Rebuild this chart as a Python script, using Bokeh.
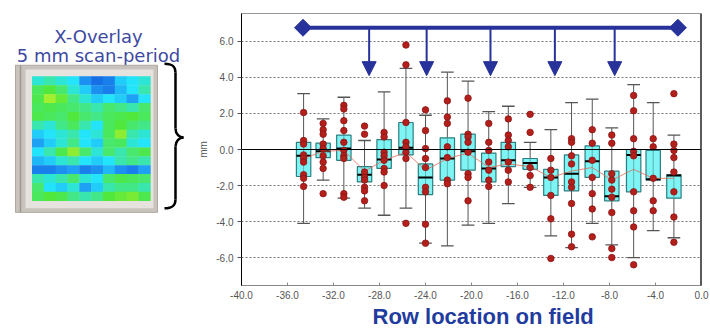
import numpy as np
from bokeh.plotting import figure
from bokeh.layouts import row
from bokeh.models import (Range1d, FixedTicker, PrintfTickFormatter, Span, Title,
                          Arrow, NormalHead, ColumnDataSource)
from bokeh.embed import file_html
from bokeh.resources import INLINE
from bokeh.core.properties import value

# ---------------- data ----------------
row_x = [-34.6, -32.9, -31.1, -29.3, -27.6, -25.7, -24.0, -22.1, -20.3, -18.5,
         -16.8, -14.9, -13.1, -11.3, -9.5, -7.8, -5.9, -4.2, -2.4]
whisker_hi = [3.1, 1.7, 2.9, 0.5, 3.2, 4.5, 1.9, 4.3, 3.8, 2.1, 2.4, 0.4, 1.1, 2.6, 2.8, 1.2, 3.6, 2.6, 0.8]
q3 = [0.4, 0.35, 0.8, -0.95, 0.55, 1.5, -0.8, 0.65, 0.85, -0.2, 0.4, -0.5, -1.1, -0.3, 0.2, -1.2, 0.0, -0.05, -1.4]
median = [-0.35, -0.1, 0.05, -1.4, -0.55, 0.1, -1.55, -0.5, -0.1, -1.05, -0.6, -0.75, -1.55, -1.35, -0.65, -2.6, -0.3, -1.65, -1.45]
q1 = [-1.5, -0.45, -0.6, -1.8, -1.05, -0.3, -2.5, -1.7, -1.15, -1.8, -0.95, -1.1, -2.55, -2.3, -1.55, -2.85, -2.35, -1.7, -2.7]
whisker_lo = [-4.1, -1.7, -2.7, -3.25, -3.65, -3.25, -5.2, -5.35, -4.2, -4.1, -3.0, -2.1, -4.8, -5.45, -4.1, -5.3, -6.0, -4.5, -4.9]
means = [-0.5, -0.1, -0.05, -1.2, -0.6, -0.15, -1.15, -0.5, -0.2, -1.0, -0.8, -0.95, -1.55, -1.2, -1.0, -1.7, -1.1, -1.6, -1.6]
points = [
    [2.05, 0.5, 0.3, -0.3, -0.5, -0.7, -1.4, -1.6, -2.05],
    [1.45, 1.1, 0.85, 0.3, 0.05, -0.35, -0.7, -1.05, -2.45],
    [2.45, 2.25, 1.6, 1.05, 0.4, -0.05, -0.35, -0.5, -2.45, -2.65],
    [1.3, 0.85, -1.25, -1.55, -1.7, -2.1, -2.3, -2.85],
    [0.95, 0.7, -0.15, -0.35, -0.6, -1.05, -1.25, -2.0],
    [5.8, 4.7, 1.5, 0.4, 0.15, -0.15, -0.5, -4.1],
    [2.2, 1.05, 0.05, -0.5, -1.0, -2.1, -2.35, -4.15, -5.2],
    [2.7, 1.8, 1.45, 0.15, -0.45, -1.7, -1.9],
    [2.85, 0.85, 0.7, 0.4, -0.15, -1.35, -1.55, -2.85],
    [1.45, 0.4, -0.05, -0.7, -1.15, -1.7, -2.05],
    [1.7, 0.8, 0.5, 0.15, -0.7, -1.15, -1.8],
    [1.95, 0.95, -1.0, -1.45, -2.1],
    [-0.5, -1.15, -1.55, -2.55, -3.85, -6.05],
    [0.6, 0.4, -0.35, -0.8, -1.8, -2.1, -3.0, -4.7, -5.4],
    [1.1, 0.35, -0.6, -1.55, -2.45, -3.3, -4.85],
    [0.8, 0.35, -1.35, -1.7, -2.2, -2.65, -3.5, -5.5, -6.0],
    [3.0, 2.15, 0.6, -0.1, -0.35, -2.35, -3.4, -4.3, -6.4],
    [0.6, 0.15, -1.6, -2.85, -3.4],
    [3.1, 0.3, -0.05, -0.45, -1.25, -2.35, -3.75, -5.15],
]
span_x = [-34.65, -2.05]
span_y = 6.76
arrow_x = [-28.9, -23.9, -18.35, -12.75, -7.55]
arrow_y_end = 4.1
x_ticks = [-40, -36, -32, -28, -24, -20, -16, -12, -8, -4, 0]
y_ticks = [-6, -4, -2, 0, 2, 4, 6]
grid_ticks = [-6, -4, -2, 2, 4, 6]
overlay_title = ["X-Overlay", "5 mm scan-period"]
x_title = "Row location on field"
y_title = "mm"

# overlay map values (0 = blue, ~0.35 = cyan, ~0.65 = green, 1 = yellow-green), rows top->bottom
overlay_grid = [
    [0.40, 0.45, 0.40, 0.35, 0.15, 0.05, 0.10, 0.30, 0.35, 0.40],
    [0.60, 0.70, 0.55, 0.40, 0.30, 0.15, 0.10, 0.25, 0.35, 0.45],
    [0.65, 0.90, 0.75, 0.50, 0.40, 0.30, 0.35, 0.30, 0.20, 0.35],
    [0.60, 0.65, 0.60, 0.55, 0.50, 0.45, 0.55, 0.50, 0.45, 0.55],
    [0.65, 0.60, 0.55, 0.70, 0.55, 0.50, 0.60, 0.65, 0.70, 0.60],
    [0.45, 0.40, 0.50, 0.60, 0.45, 0.35, 0.60, 0.70, 0.55, 0.50],
    [0.30, 0.35, 0.40, 0.45, 0.35, 0.40, 0.60, 0.85, 0.45, 0.40],
    [0.20, 0.30, 0.40, 0.50, 0.35, 0.30, 0.55, 0.60, 0.40, 0.35],
    [0.35, 0.45, 0.65, 0.85, 0.55, 0.40, 0.55, 0.45, 0.55, 0.65],
    [0.25, 0.30, 0.40, 0.45, 0.35, 0.30, 0.35, 0.45, 0.50, 0.45],
    [0.10, 0.10, 0.15, 0.20, 0.10, 0.15, 0.25, 0.15, 0.10, 0.20],
    [0.45, 0.40, 0.45, 0.55, 0.40, 0.35, 0.55, 0.65, 0.60, 0.55],
    [0.55, 0.35, 0.30, 0.40, 0.20, 0.30, 0.45, 0.50, 0.50, 0.45],
    [0.60, 0.70, 0.65, 0.50, 0.45, 0.50, 0.70, 0.75, 0.80, 0.65],
]

# ---------------- palette ----------------
anchors = [(0.0, (20, 95, 225)), (0.2, (30, 160, 245)), (0.35, (35, 228, 250)),
           (0.52, (70, 232, 120)), (0.7, (80, 232, 60)), (1.0, (205, 242, 40))]
def cmap(v):
    for (a, ca), (b, cb) in zip(anchors[:-1], anchors[1:]):
        if v <= b:
            t = (v - a) / (b - a)
            c = [int(round(ca[i] + t * (cb[i] - ca[i]))) for i in range(3)]
            return "#%02x%02x%02x" % tuple(c)
    return "#%02x%02x%02x" % anchors[-1][1]

BLUE_TXT = "#3d49a2"
NAVY = "#27339a"
H = 331

# ---------------- left panel (page-pixel coordinates) ----------------
left = figure(width=195, height=H, x_range=Range1d(0, 195), y_range=Range1d(H, 0),
              output_backend="svg", toolbar_location=None, min_border=0,
              x_axis_location=None, y_axis_location=None)
left.grid.visible = False
left.outline_line_color = None
left.background_fill_color = "white"

left.text(x=[98], y=[27.5], text=[overlay_title[0]], text_font=value("DejaVu Sans"),
          text_font_size="18px", text_color=BLUE_TXT, text_align="center", text_baseline="alphabetic")
left.text(x=[98], y=[51], text=[overlay_title[1]], text_font=value("DejaVu Sans"),
          text_font_size="18px", text_color=BLUE_TXT, text_align="center", text_baseline="alphabetic")

# frame of the map
left.quad(left=15, right=157, top=63, bottom=242, fill_color="#c9c3bd", line_color="#b0a8a0")
left.quad(left=25, right=153, top=68, bottom=237, fill_color="#e6e2de", line_color=None)
left.segment(x0=20, y0=63, x1=20, y1=242, line_color="#a09890", line_width=1.5)

x0, x1, y0, y1 = 31.7, 150.0, 76.7, 228.0
nr, nc = len(overlay_grid), len(overlay_grid[0])
cw, ch = (x1 - x0) / nc, (y1 - y0) / nr
cx, cy, cc = [], [], []
for r in range(nr):
    for c in range(nc):
        cx.append(x0 + (c + 0.5) * cw)
        cy.append(y0 + (r + 0.5) * ch)
        cc.append(cmap(overlay_grid[r][c]))
left.rect(x=cx, y=cy, width=cw + 0.4, height=ch + 0.4, fill_color=cc, line_color=None)

# curly brace
bk = dict(line_color="black", line_width=2.5)
left.bezier(x0=[164, 175, 183, 175], y0=[61, 140, 151, 226],
            x1=[175, 183, 175, 164], y1=[72, 151, 162, 237],
            cx0=[172, 175, 179, 175], cy0=[61, 147, 151, 234],
            cx1=[175, 179, 175, 172], cy1=[64, 151, 155, 237], **bk)
left.segment(x0=[175, 175], y0=[72, 162], x1=[175, 175], y1=[140, 226], **bk)

# ---------------- main chart ----------------
p = figure(width=515, height=H, x_range=Range1d(-40, 0), y_range=Range1d(-7.55, 7.55),
           output_backend="svg", toolbar_location=None,
           min_border_left=45, min_border_right=9, min_border_top=13, min_border_bottom=46)
p.outline_line_color = "#999999"
p.background_fill_color = "white"
p.xgrid.visible = False
p.ygrid.ticker = FixedTicker(ticks=grid_ticks)
p.ygrid.grid_line_color = "#777777"
p.ygrid.grid_line_dash = "2 2"
p.ygrid.grid_line_width = 1

for ax, ticks in ((p.xaxis[0], x_ticks), (p.yaxis[0], y_ticks)):
    ax.ticker = FixedTicker(ticks=ticks)
    ax.formatter = PrintfTickFormatter(format="%.1f")
    ax.major_label_text_font = "Liberation Sans"
    ax.major_label_text_font_size = "10px"
    ax.major_label_text_color = "#555555"
    ax.minor_tick_line_color = None
p.xaxis.axis_line_color = "#888888"
p.xaxis.major_tick_in = 3
p.xaxis.major_tick_out = 0
p.xaxis.major_tick_line_color = "#888888"
p.xaxis.major_label_standoff = 5
p.yaxis.axis_line_color = "black"
p.yaxis.major_tick_in = 0
p.yaxis.major_tick_out = 4
p.yaxis.major_tick_line_color = "#555555"
p.yaxis.major_label_standoff = 4
p.yaxis.axis_label = y_title
p.yaxis.axis_label_text_font = "Liberation Sans"
p.yaxis.axis_label_text_font_size = "10px"
p.yaxis.axis_label_text_font_style = "normal"
p.yaxis.axis_label_text_color = "#555555"
p.yaxis.axis_label_standoff = 4

p.add_layout(Span(location=0, dimension="width", line_color="black", line_width=1.2))
p.add_layout(Span(location=0, dimension="height", line_color="#222222", line_width=2.5))

src = ColumnDataSource(dict(x=row_x, hi=whisker_hi, q3=q3, med=median, q1=q1, lo=whisker_lo, mean=means))
bw, cap = 1.25, 1.1
p.segment(x0="x", y0="lo", x1="x", y1="hi", source=src, line_color="#555555", line_width=1)
p.vbar(x="x", width=bw, top="q3", bottom="q1", source=src, fill_color="#7ef4f4",
       line_color="#2c7f80", line_width=1.2)
p.segment(x0="x", y0="q1", x1="x", y1="q3", source=src, line_color="#4a8a8a", line_width=1, line_alpha=0.6)
xs = np.array(row_x)
p.segment(x0=xs - cap / 2, y0=whisker_hi, x1=xs + cap / 2, y1=whisker_hi, line_color="#555555", line_width=1.3)
p.segment(x0=xs - cap / 2, y0=whisker_lo, x1=xs + cap / 2, y1=whisker_lo, line_color="#555555", line_width=1.3)
p.segment(x0=xs - bw / 2, y0=median, x1=xs + bw / 2, y1=median, line_color="black", line_width=2)
p.line(x=row_x, y=means, line_color="#e06a5a", line_width=1, line_alpha=0.8)

px, py = [], []
for xv, pts in zip(row_x, points):
    px.extend([xv] * len(pts))
    py.extend(pts)
p.scatter(x=px, y=py, size=6.5, fill_color="#b3201c", line_color="#8c1414", line_width=0.8)

# scan-span annotation
p.line(x=span_x, y=[span_y, span_y], line_color=NAVY, line_width=4)
p.scatter(x=span_x, y=[span_y, span_y], marker="square", angle=np.pi / 4, size=12,
          fill_color=NAVY, line_color=NAVY)
asrc = ColumnDataSource(dict(x=arrow_x, ys=[span_y] * len(arrow_x), ye=[arrow_y_end] * len(arrow_x)))
p.add_layout(Arrow(end=NormalHead(size=14, fill_color=NAVY, line_color=NAVY),
                   x_start="x", y_start="ys", x_end="x", y_end="ye", source=asrc,
                   line_color=NAVY, line_width=2))

p.add_layout(Title(text=x_title, text_font="Liberation Sans", text_font_size="22px",
                   text_font_style="bold", text_color="#1f3c9e", align="left", offset=131,
                   standoff=0), "below")

layout = row(left, p)
open("out.html", "w").write(file_html(layout, INLINE))
